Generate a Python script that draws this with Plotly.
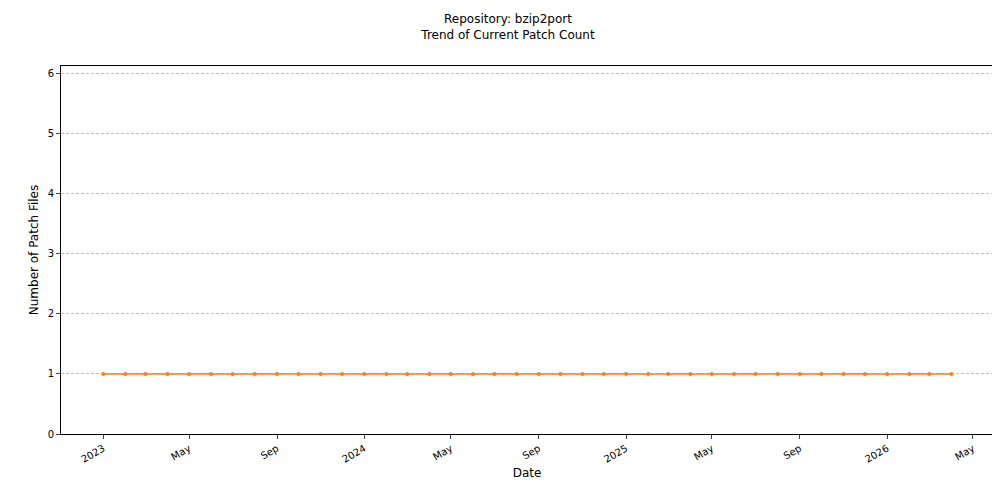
import plotly.graph_objects as go

# monthly snapshots
dates = ["2023-01-01", "2023-02-01", "2023-03-01", "2023-04-01", "2023-05-01", "2023-06-01",
         "2023-07-01", "2023-08-01", "2023-09-01", "2023-10-01", "2023-11-01", "2023-12-01",
         "2024-01-01", "2024-02-01", "2024-03-01", "2024-04-01", "2024-05-01", "2024-06-01",
         "2024-07-01", "2024-08-01", "2024-09-01", "2024-10-01", "2024-11-01", "2024-12-01",
         "2025-01-01", "2025-02-01", "2025-03-01", "2025-04-01", "2025-05-01", "2025-06-01",
         "2025-07-01", "2025-08-01", "2025-09-01", "2025-10-01", "2025-11-01", "2025-12-01",
         "2026-01-01", "2026-02-01", "2026-03-01", "2026-04-01"]
patch_counts = [1, 1, 1, 1, 1, 1, 1, 1, 1, 1, 1, 1, 1, 1, 1, 1, 1, 1, 1, 1,
                1, 1, 1, 1, 1, 1, 1, 1, 1, 1, 1, 1, 1, 1, 1, 1, 1, 1, 1, 1]

tick_vals = ["2023-01-01", "2023-05-01", "2023-09-01", "2024-01-01", "2024-05-01", "2024-09-01",
             "2025-01-01", "2025-05-01", "2025-09-01", "2026-01-01", "2026-05-01"]
tick_text = ["2023", "May", "Sep", "2024", "May", "Sep", "2025", "May", "Sep", "2026", "May"]

fig = go.Figure(go.Scatter(
    x=dates, y=patch_counts, mode="lines+markers",
    line=dict(color="#ff7f0e", width=1.5),
    marker=dict(color="#ff7f0e", size=4),
))

fig.update_layout(
    width=1000, height=500,
    paper_bgcolor="white", plot_bgcolor="white",
    font=dict(family="DejaVu Sans", size=10, color="black"),
    title=dict(text="Repository: bzip2port<br>Trend of Current Patch Count",
               x=0.5, xanchor="center", y=0.97, yanchor="top", font=dict(size=12)),
    margin=dict(l=53, r=15, t=58, b=74, autoexpand=False),
    showlegend=False,
)
fig.update_xaxes(
    range=["2022-11-03", "2026-05-29"], tickvals=tick_vals, ticktext=tick_text,
    tickangle=-30, ticks="outside", ticklen=4, showgrid=False,
    showline=True, linecolor="black", mirror=True, automargin=False,
    title=dict(text="Date", standoff=4),
)
fig.update_yaxes(
    range=[0, 6.13], dtick=1, ticks="outside", ticklen=4,
    showgrid=True, gridcolor="#c0c0c0", gridwidth=0.5, griddash="3px,2px",
    showline=True, linecolor="black", mirror=True, zeroline=False, automargin=False,
    title=dict(text="Number of Patch Files", standoff=6),
)

fig.write_html("out.html")
